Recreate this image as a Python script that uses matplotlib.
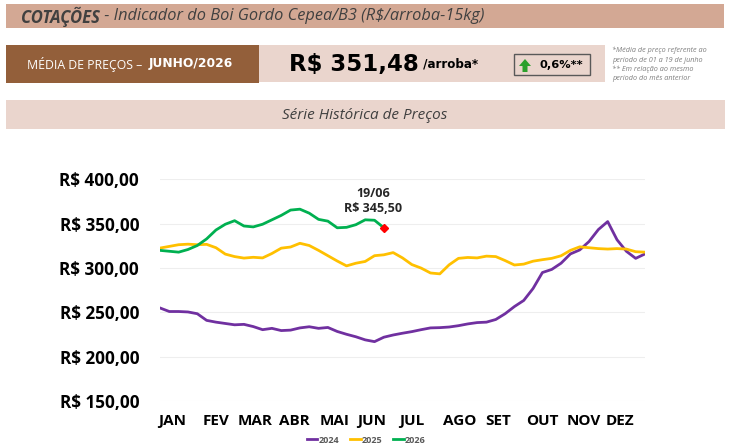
import numpy as np
import matplotlib
matplotlib.use("Agg")
import matplotlib.pyplot as plt
from matplotlib.patches import Rectangle, FancyArrow
from matplotlib.lines import Line2D

# -----------------------------
# Data (R$/arroba, weekly readings)
# -----------------------------
days = np.arange(0, 365, 7)

price_2024 = [255, 251, 251, 250.5, 248.5, 241, 239, 237.5, 236, 236.5,
              234, 230.5, 232, 229.5, 230, 232.5, 233.8, 232, 233, 228.5,
              225.3, 222.5, 219, 217, 222, 224.5, 226.5, 228.3, 230.5, 232.5,
              232.8, 233.5, 235, 237, 238.5, 239, 242, 248.5, 256.6, 263.5,
              277, 295, 298.5, 305.5, 316, 320.5, 330, 343.5, 352.5, 332,
              319, 311, 316]

price_2025 = [322.6, 324.5, 326.4, 327, 326.4, 326.8, 323, 315.8, 313, 311.3,
              312.2, 311.5, 316.5, 322.5, 323.8, 328, 325.5, 320, 314, 308,
              302.5, 305.5, 307.5, 314, 315, 317.5, 311.5, 304, 300, 294.5,
              293.5, 303.7, 311, 312, 311.5, 313.5, 313, 308.5, 303.5, 304.5,
              307.8, 309.5, 311, 313.9, 320, 324, 323, 322, 321.5, 322,
              321.5, 318.5, 318]

price_2026 = [320, 319, 318, 321, 325.5, 333, 343, 349.5, 353.5, 347.5,
              346.5, 349.5, 354.5, 359.5, 365.5, 366.5, 362, 355, 353, 345.5,
              346, 349, 354.5, 354, 345.5]

months = ["JAN", "FEV", "MAR", "ABR", "MAI", "JUN", "JUL", "AGO", "SET", "OUT", "NOV", "DEZ"]
month_pos = [9, 42, 71, 101, 131, 159, 189, 225, 254, 287, 318, 345]

y_ticks = [150, 200, 250, 300, 350, 400]

media_preco = "R$ 351,48"
variacao = "0,6%**"
ultimo_dia = "19/06"

# -----------------------------
# Figure
# -----------------------------
W, H = 729, 448
fig = plt.figure(figsize=(W / 100, H / 100), dpi=100)
fig.patch.set_facecolor("white")

# overlay in pixel coordinates for the header boxes
bg = fig.add_axes([0, 0, 1, 1])
bg.set_xlim(0, W)
bg.set_ylim(H, 0)
bg.axis("off")

bg.add_patch(Rectangle((6, 4), 718, 24, color="#d3a894", lw=0))
bg.add_patch(Rectangle((6, 45), 253, 38, color="#935f3a", lw=0))
bg.add_patch(Rectangle((259, 45), 346, 37, color="#ead5cd", lw=0))
bg.add_patch(Rectangle((6, 100), 719, 29.5, color="#ead5cd", lw=0))
bg.add_patch(Rectangle((514.5, 54.5), 76, 20.5, facecolor="#ead5cd",
                       edgecolor="#595959", lw=1))

fig.canvas.draw()
rend = fig.canvas.get_renderer()


def text_after(prev, txt, gap=0, **kw):
    bb = prev.get_window_extent(rend)
    x_px = bb.x1 + gap
    return fig.text(x_px / W, prev.get_position()[1], txt, **kw)


t1 = fig.text(21 / W, 1 - 16.5 / H, "COTAÇÕES", fontsize=12, fontweight="bold",
              fontstyle="italic", color="#404040", family="Open Sans", va="center")
text_after(t1, " - Indicador do Boi Gordo Cepea/B3 (R$/arroba-15kg)", fontsize=11.8,
           fontstyle="italic", color="#404040", family="Open Sans", va="center")

t2 = fig.text(27 / W, 1 - 64 / H, "MÉDIA DE PREÇOS –  ", fontsize=8.8, color="white",
              family="Open Sans", va="center")
text_after(t2, "JUNHO/2026", fontsize=8.8, color="white", fontweight="bold",
           family="DejaVu Sans", va="center")

t3 = fig.text(289 / W, 1 - 64 / H, media_preco, fontsize=16.5, fontweight="bold",
              color="black", family="DejaVu Sans", va="center")
text_after(t3, " /arroba*", fontsize=8.6, fontweight="bold", color="black",
           family="DejaVu Sans", va="center", gap=0)

bg.add_patch(FancyArrow(525, 72, 0, -13, width=5, head_width=12, head_length=7,
                        length_includes_head=True, color="#2ca02c", lw=0))
fig.text(539 / W, 1 - 64.5 / H, variacao, fontsize=8.2, fontweight="bold",
         color="black", family="DejaVu Sans", va="center")

notas = ["*Média de preço referente ao", "período de 01 a 19 de junho",
         "** Em relação ao mesmo", "período do mês anterior"]
for i, n in enumerate(notas):
    fig.text(612 / W, 1 - (50.5 + i * 9.5) / H, n, fontsize=5.2, fontstyle="italic",
             color="#7f7f7f", family="Open Sans", va="center")

fig.text(365 / W, 1 - 115 / H, "Série Histórica de Preços", fontsize=11,
         fontstyle="italic", color="#404040", family="Open Sans",
         ha="center", va="center")

# -----------------------------
# Chart
# -----------------------------
ax = fig.add_axes([160 / W, 1 - 401 / H, 485 / W, (401 - 179.5) / H])
ax.set_zorder(2)
ax.patch.set_alpha(0)

ax.plot(days, price_2024, color="#7030a0", lw=2, label="2024", solid_joinstyle="round")
ax.plot(days, price_2025, color="#ffc000", lw=2, label="2025", solid_joinstyle="round")
ax.plot(days[:len(price_2026)], price_2026, color="#00b050", lw=2, label="2026",
        solid_joinstyle="round")
last_x = days[len(price_2026) - 1]
ax.plot(last_x, price_2026[-1], marker="D", color="#ff0000", ms=4.5, zorder=5)
ax.annotate(f"{ultimo_dia}\nR$ {price_2026[-1]:.2f}".replace(".", ","),
            xy=(last_x, price_2026[-1]), xytext=(-8, 9), textcoords="offset points",
            ha="center", va="bottom", fontsize=9, fontweight="bold", color="#262626",
            family="Open Sans", linespacing=1.2)

ax.set_xlim(0, 364)
ax.set_ylim(150, 400)
ax.set_yticks(y_ticks)
ax.set_yticklabels([f"R$ {v:.2f}".replace(".", ",") for v in y_ticks],
                   fontsize=12.3, fontweight="bold", family="Open Sans")
ax.set_xticks(month_pos)
ax.set_xticklabels(months, fontsize=11, fontweight="bold", family="Open Sans")
ax.tick_params(axis="y", length=0, pad=15)
ax.tick_params(axis="x", length=0, pad=9)
ax.grid(axis="y", color="#eeeeee", lw=0.8)
ax.set_axisbelow(True)
for s in ax.spines.values():
    s.set_visible(False)

handles = [Line2D([], [], color=c, lw=2) for c in ["#7030a0", "#ffc000", "#00b050"]]
fig.legend(handles, ["2024", "2025", "2026"], loc="center",
           bbox_to_anchor=(366 / W, 1 - 440 / H), ncol=3, frameon=False,
           prop={"family": "Open Sans", "weight": "bold", "size": 6.5},
           labelcolor="#595959", handlelength=1.2, handletextpad=0.1,
           columnspacing=1.2)

fig.savefig("out.png", dpi=100)
